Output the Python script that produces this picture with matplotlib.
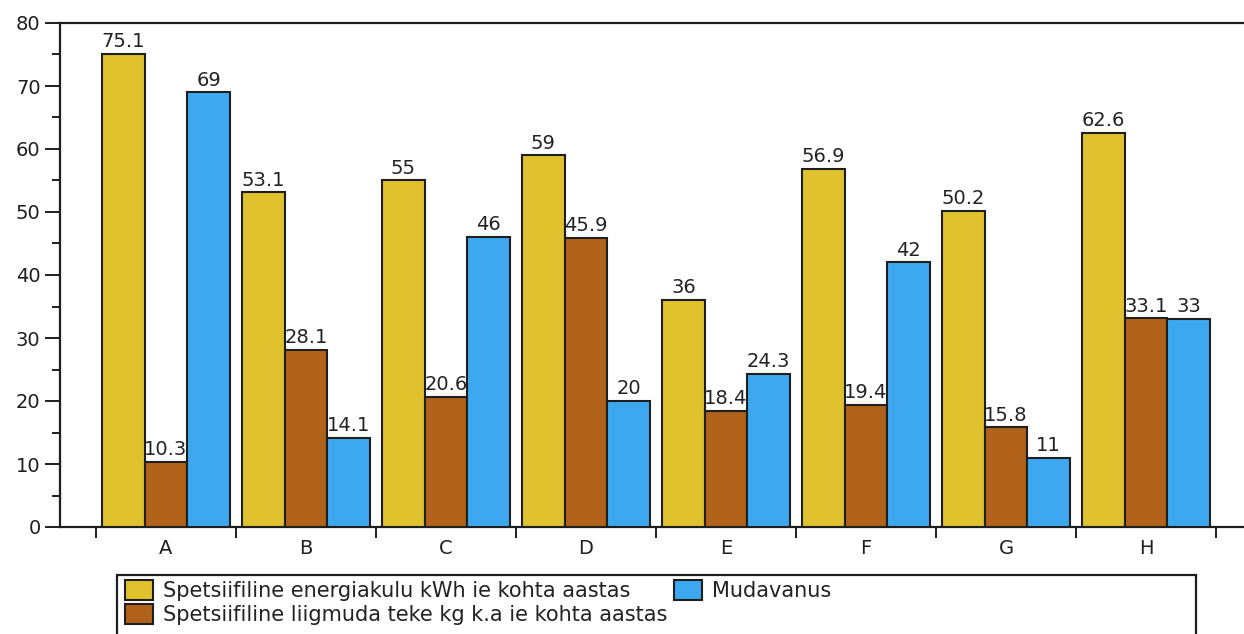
import numpy as np
import matplotlib
matplotlib.use("Agg")
import matplotlib.pyplot as plt
from matplotlib.patches import FancyBboxPatch, Rectangle
from matplotlib.legend_handler import HandlerPatch

categories = ["A", "B", "C", "D", "E", "F", "G", "H"]
energy = [75.1, 53.1, 55, 59, 36, 56.9, 50.2, 62.6]
sludge = [10.3, 28.1, 20.6, 45.9, 18.4, 19.4, 15.8, 33.1]
mudavanus = [69, 14.1, 46, 20, 24.3, 42, 11, 33]
series_labels = [
    "Spetsiifiline energiakulu kWh ie kohta aastas",
    "Spetsiifiline liigmuda teke kg k.a ie kohta aastas",
    "Mudavanus",
]
colors = ["#E0C12E", "#B0621A", "#3DA8F0"]
yticks = [0, 10, 20, 30, 40, 50, 60, 70, 80]

plt.rcParams["font.family"] = ["DejaVu Sans"]
FS = 14
LEG_FS = 15
INK = "#1e1e1e"

W, H = 1244, 634
fig = plt.figure(figsize=(W / 100, H / 100), dpi=100)
ax = fig.add_axes([60 / W, (H - 527) / H, (W - 60) / W, (527 - 23) / H])

x = np.arange(len(categories))
bw = 0.304
for k, (vals, col) in enumerate(zip([energy, sludge, mudavanus], colors)):
    pos = x + (k - 1) * bw
    ax.bar(pos, vals, width=bw, color=col, edgecolor=INK, linewidth=1.5,
           zorder=3, label=series_labels[k])
    for px, v in zip(pos, vals):
        ax.annotate(f"{v:g}", (px, v), xytext=(0, 2), textcoords="offset points",
                    ha="center", va="bottom", fontsize=FS, color="#222222",
                    zorder=2)

ax.set_xlim(-0.757, 7.7)
ax.set_ylim(0, 80)

# y axis
ax.set_yticks(yticks)
ax.set_yticks(np.arange(5, 80, 10), minor=True)
ax.tick_params(axis="y", which="major", length=11, width=1.4, pad=3,
               labelsize=FS, colors=INK)
ax.tick_params(axis="y", which="minor", length=6, width=1.4, colors=INK)

# x axis: labels at group centres, tick marks at group boundaries
ax.set_xticks(x)
ax.set_xticklabels(categories)
ax.set_xticks(np.arange(-0.5, len(categories)), minor=True)
ax.tick_params(axis="x", which="major", length=0, pad=9, labelsize=FS,
               colors=INK)
ax.tick_params(axis="x", which="minor", length=8, width=1.4, colors=INK)

for s in ["left", "bottom", "top"]:
    ax.spines[s].set_linewidth(1.6)
    ax.spines[s].set_color(INK)
ax.spines["right"].set_visible(False)


class RoundedHandler(HandlerPatch):
    def create_artists(self, legend, orig_handle, xdescent, ydescent, width,
                       height, fontsize, trans):
        p = FancyBboxPatch((-xdescent + 3, -ydescent + 3), width - 6, height - 6,
                           boxstyle="round,pad=3,rounding_size=5",
                           facecolor=orig_handle.get_facecolor(),
                           edgecolor=INK, linewidth=1.5, transform=trans)
        return [p]


handles, labels = ax.get_legend_handles_labels()
leg = fig.legend(handles, labels, ncol=2, loc="upper left",
                 bbox_to_anchor=(125 / W, (H - 580) / H),
                 frameon=False, fontsize=LEG_FS, handlelength=1.35,
                 handleheight=1.1, handletextpad=0.48, labelspacing=0.15,
                 columnspacing=0.3, borderpad=0, borderaxespad=0,
                 handler_map={Rectangle: RoundedHandler()})
for t in leg.get_texts():
    t.set_color("#222222")

fig.patches.append(Rectangle((117 / W, -0.05), (1196 - 117) / W,
                             (H - 575) / H + 0.05, transform=fig.transFigure,
                             facecolor="none", edgecolor=INK, linewidth=1.6))

fig.savefig("out.png", dpi=100)
